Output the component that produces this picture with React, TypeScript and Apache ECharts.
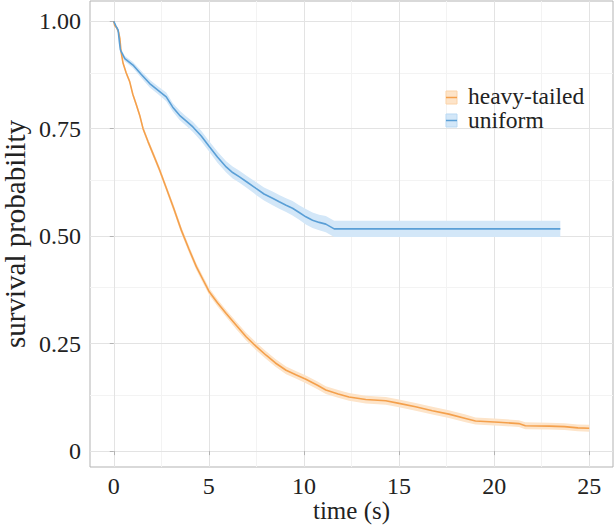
import React, { useEffect, useRef } from "react";
import * as echarts from "echarts";

// ---- data ----
const heavyT = [0, 0.05, 0.15, 0.25, 0.32, 0.38, 0.49, 0.65, 0.84, 1.0, 1.19, 1.37, 1.54, 1.8, 2.06, 2.4, 2.76, 3.15, 3.55, 3.95, 4.34, 4.7, 5.03, 5.45, 5.91, 6.45, 6.96, 7.5, 8.01, 8.5, 9.06, 9.6, 10.1, 10.71, 11.15, 11.8, 12.37, 13.25, 14.3, 15.0, 15.87, 16.75, 17.62, 18.5, 19.02, 20.24, 21.3, 21.64, 22.9, 23.7, 24.4, 25.0];
const heavyS = [1.0, 0.99, 0.985, 0.975, 0.96, 0.93, 0.902, 0.88, 0.859, 0.83, 0.805, 0.78, 0.75, 0.72, 0.692, 0.655, 0.612, 0.565, 0.514, 0.47, 0.429, 0.398, 0.37, 0.345, 0.32, 0.292, 0.266, 0.243, 0.223, 0.205, 0.188, 0.177, 0.167, 0.153, 0.142, 0.133, 0.126, 0.12, 0.117, 0.111, 0.103, 0.094, 0.086, 0.076, 0.07, 0.067, 0.064, 0.059, 0.058, 0.057, 0.054, 0.053];
const heavyHalfCI = [0, 0.002, 0.003, 0.003, 0.004, 0.004, 0.004, 0.005, 0.005, 0.005, 0.006, 0.006, 0.006, 0.006, 0.007, 0.007, 0.007, 0.008, 0.008, 0.008, 0.008, 0.008, 0.008, 0.008, 0.008, 0.009, 0.009, 0.009, 0.009, 0.009, 0.009, 0.009, 0.009, 0.009, 0.009, 0.009, 0.009, 0.009, 0.009, 0.009, 0.009, 0.009, 0.009, 0.009, 0.008, 0.008, 0.008, 0.008, 0.008, 0.008, 0.008, 0.008];

const uniT = [0, 0.1, 0.23, 0.3, 0.35, 0.58, 1.01, 1.45, 1.89, 2.3, 2.76, 3.1, 3.46, 3.8, 4.16, 4.6, 5.03, 5.45, 5.91, 6.25, 6.61, 7.0, 7.48, 7.9, 8.35, 8.7, 9.06, 9.4, 9.75, 10.1, 10.45, 10.8, 11.15, 11.59, 23.48];
const uniS = [1.0, 0.99, 0.979, 0.95, 0.933, 0.913, 0.898, 0.876, 0.855, 0.84, 0.824, 0.8, 0.781, 0.768, 0.754, 0.733, 0.708, 0.684, 0.661, 0.648, 0.638, 0.626, 0.611, 0.598, 0.588, 0.58, 0.572, 0.565, 0.555, 0.545, 0.537, 0.532, 0.528, 0.517, 0.517];
const uniHalfCI = [0, 0.003, 0.004, 0.005, 0.006, 0.006, 0.007, 0.008, 0.009, 0.009, 0.01, 0.01, 0.011, 0.011, 0.012, 0.012, 0.012, 0.013, 0.013, 0.014, 0.014, 0.014, 0.015, 0.015, 0.016, 0.016, 0.016, 0.017, 0.017, 0.018, 0.018, 0.018, 0.019, 0.019, 0.019];

const xTicks = [0, 5, 10, 15, 20, 25];
const xMinor = [2.5, 7.5, 12.5, 17.5, 22.5];
const yTicks = [0, 0.25, 0.5, 0.75, 1.0];
const yMinor = [0.125, 0.375, 0.625, 0.875];

const seriesNames = ["heavy-tailed", "uniform"];

const ORANGE = "#F4A04C";
const ORANGE_FILL = "#FDE4C9";
const BLUE = "#5A9FD6";
const BLUE_FILL = "#D3E7F8";
const FONT = "Liberation Serif";
const TEXT = "#222";

function bandSeries(t: number[], s: number[], h: number[], fill: string) {
  return {
    type: "custom",
    silent: true,
    clip: true,
    z: 1,
    data: [[t[0], s[0]]],
    renderItem: (_p: any, api: any) => {
      const upper = t.map((x, i) => api.coord([x, s[i] + h[i]]));
      const lower = t.map((x, i) => api.coord([x, s[i] - h[i]])).reverse();
      return {
        type: "polygon",
        shape: { points: upper.concat(lower) },
        style: { fill },
      };
    },
  };
}

export default function App() {
  const ref = useRef<HTMLDivElement>(null);
  useEffect(() => {
    if (!ref.current) return;
    const chart = echarts.init(ref.current, undefined, { renderer: "svg" });

    const pts = (t: number[], v: number[]) => t.map((x, i) => [x, v[i]]);

    const major = { color: "#E3E3E3", width: 1, type: "solid" };
    const minor = { color: "#F3F3F3", width: 1, type: "solid" };
    const gridLines = [
      ...xMinor.map((v) => ({ xAxis: v, lineStyle: minor })),
      ...yMinor.map((v) => ({ yAxis: v, lineStyle: minor })),
      ...xTicks.map((v) => ({ xAxis: v, lineStyle: major })),
      ...yTicks.map((v) => ({ yAxis: v, lineStyle: major })),
    ];

    const option: any = {
      animation: false,
      textStyle: { fontFamily: FONT },
      grid: {
        left: 90,
        top: 1,
        width: 523,
        height: 466,
        containLabel: false,
        outerBoundsMode: "none",
        show: true,
        borderColor: "#B3B3B3",
        borderWidth: 1,
        backgroundColor: "#fff",
      },
      xAxis: {
        type: "value",
        min: -1.25,
        max: 26.25,
        name: "time (s)",
        nameLocation: "middle",
        nameGap: 31,
        nameMoveOverlap: false,
        nameTextStyle: { fontFamily: FONT, fontSize: 25, color: TEXT },
        axisLine: { show: false },
        splitLine: { show: false },
        axisTick: {
          show: true,
          customValues: xTicks,
          length: 4,
          lineStyle: { color: "#B3B3B3" },
        },
        axisLabel: {
          customValues: xTicks,
          margin: 7,
          fontFamily: FONT,
          fontSize: 24,
          color: TEXT,
        },
      },
      yAxis: {
        type: "value",
        min: -0.037,
        max: 1.047,
        name: "survival probability",
        nameLocation: "middle",
        nameGap: 61,
        nameMoveOverlap: false,
        nameTextStyle: { fontFamily: FONT, fontSize: 29, color: TEXT },
        axisLine: { show: false },
        splitLine: { show: false },
        axisTick: {
          show: true,
          customValues: yTicks,
          length: 4,
          lineStyle: { color: "#B3B3B3" },
        },
        axisLabel: {
          customValues: yTicks,
          margin: 9,
          fontFamily: FONT,
          fontSize: 24,
          color: TEXT,
          formatter: (v: number) => (v === 0 ? "0" : v.toFixed(2)),
        },
      },
      series: [
        {
          type: "line",
          name: "grid",
          data: [[0, -1]],
          symbol: "none",
          silent: true,
          z: 0,
          lineStyle: { opacity: 0 },
          markLine: {
            silent: true,
            symbol: "none",
            label: { show: false },
            lineStyle: { type: "solid" },
            data: gridLines,
            z: 0,
          },
        },
        bandSeries(heavyT, heavyS, heavyHalfCI, ORANGE_FILL),
        bandSeries(uniT, uniS, uniHalfCI, BLUE_FILL),
        {
          type: "line",
          name: seriesNames[0],
          data: pts(heavyT, heavyS),
          symbol: "none",
          lineStyle: { color: ORANGE, width: 1.6 },
          z: 3,
        },
        {
          type: "line",
          name: seriesNames[1],
          data: pts(uniT, uniS),
          symbol: "none",
          lineStyle: { color: BLUE, width: 1.6 },
          z: 3,
        },
      ],
      graphic: [
        { type: "rect", z: 10, shape: { x: 446, y: 91, width: 11, height: 13 }, style: { fill: ORANGE_FILL, stroke: "#FBD3A8", lineWidth: 1 } },
        { type: "line", z: 11, shape: { x1: 446, y1: 97.5, x2: 457, y2: 97.5 }, style: { stroke: ORANGE, lineWidth: 1.5 } },
        { type: "text", z: 11, x: 468, y: 96, style: { text: seriesNames[0], fontFamily: FONT, fontSize: 23.5, fill: TEXT, verticalAlign: "middle", align: "left" } },
        { type: "rect", z: 10, shape: { x: 446, y: 114, width: 11, height: 13 }, style: { fill: BLUE_FILL, stroke: "#B9D9F3", lineWidth: 1 } },
        { type: "line", z: 11, shape: { x1: 446, y1: 120.5, x2: 457, y2: 120.5 }, style: { stroke: BLUE, lineWidth: 1.5 } },
        { type: "text", z: 11, x: 468, y: 120, style: { text: seriesNames[1], fontFamily: FONT, fontSize: 23.5, fill: TEXT, verticalAlign: "middle", align: "left" } },
      ],
    };
    chart.setOption(option);
    return () => chart.dispose();
  }, []);
  return <div ref={ref} style={{ width: 615, height: 526, position: "absolute", left: 0, top: 0 }} />;
}
